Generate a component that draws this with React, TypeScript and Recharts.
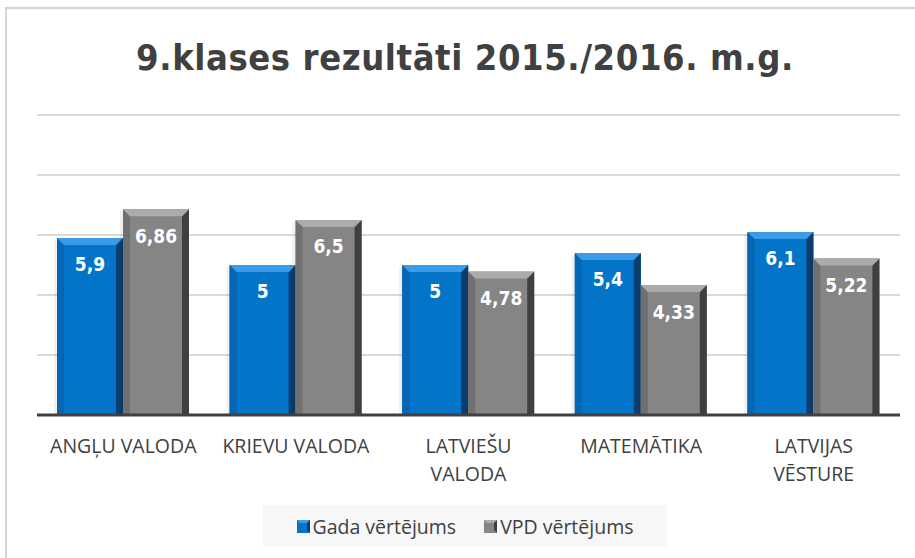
import React from 'react';
import { BarChart, Bar, XAxis, YAxis, CartesianGrid, LabelList, Legend } from 'recharts';

const categories = ['ANGĻU VALODA', 'KRIEVU VALODA', 'LATVIEŠU VALODA', 'MATEMĀTIKA', 'LATVIJAS VĒSTURE'];
const gadaValues = [5.9, 5, 5, 5.4, 6.1];
const vpdValues = [6.86, 6.5, 4.78, 4.33, 5.22];
const yTicks = [0, 2, 4, 6, 8, 10];
const seriesNames = ['Gada vērtējums', 'VPD vērtējums'];
const titleText = '9.klases rezultāti 2015./2016. m.g.';

const data = categories.map((c, i) => ({ name: c, gada: gadaValues[i], vpd: vpdValues[i] }));

const FONT = "'Liberation Sans Narrow', 'DejaVu Sans Condensed', 'Open Sans', sans-serif";
const TEXT_FONT = "'Open Sans', sans-serif";

const palettes: Record<string, { main: string; top: string; left: string; right: string }> = {
  blue: { main: '#0474C8', top: '#3A9BE8', left: '#0566B4', right: '#0B3E6E' },
  gray: { main: '#858585', top: '#ABABAB', left: '#707070', right: '#3F3F3F' },
};

const BevelBar = (props: any) => {
  const { x, y, width, height, paletteKey } = props;
  if (!height || height <= 0) return null;
  const p = palettes[paletteKey];
  const b = 7;
  return (
    <g>
      <rect x={x - 3} y={y + 2} width={width + 3} height={height - 2} fill="#000" opacity={0.06} />
      <rect x={x} y={y} width={width} height={height} fill={p.main} />
      <polygon points={`${x},${y} ${x + b},${y + b} ${x + b},${y + height} ${x},${y + height}`} fill={p.left} />
      <polygon points={`${x + width},${y} ${x + width - b},${y + b} ${x + width - b},${y + height} ${x + width},${y + height}`} fill={p.right} />
      <polygon points={`${x},${y} ${x + width},${y} ${x + width - b},${y + b} ${x + b},${y + b}`} fill={p.top} />
    </g>
  );
};

const fmt = (v: any) => String(v).replace('.', ',');

const CategoryTick = (props: any) => {
  const { x, y, payload } = props;
  const label: string = payload.value;
  const lines = label.length > 13 ? label.split(' ') : [label];
  return (
    <g transform={`translate(${x},${y})`}>
      {lines.map((l, i) => (
        <text key={i} x={0} y={30 + i * 28} textAnchor="middle" fill="#404040" fontSize={19.5} fontFamily={TEXT_FONT}>
          {l}
        </text>
      ))}
    </g>
  );
};

const LegendContent = () => {
  const sw = [palettes.blue, palettes.gray];
  return (
    <div style={{ width: 404, height: 42, background: '#F7F7F7', display: 'flex', alignItems: 'center', justifyContent: 'center', gap: 28, fontFamily: TEXT_FONT, fontSize: 19.5, color: '#404040' }}>
      {seriesNames.map((n, i) => (
        <span key={n} style={{ display: 'flex', alignItems: 'center' }}>
          <svg width={13} height={13} style={{ marginRight: 3 }}>
            <rect x={0} y={0} width={13} height={13} fill={sw[i].main} />
            <polygon points="0,0 13,0 10,3 3,3" fill={sw[i].top} />
            <polygon points="13,0 13,13 10,10 10,3" fill={sw[i].right} />
          </svg>
          {n}
        </span>
      ))}
    </div>
  );
};

export default function App() {
  return (
    <div style={{ position: 'absolute', left: 0, top: 0, width: 915, height: 558, background: '#fff', overflow: 'hidden' }}>
      <div style={{ position: 'absolute', left: 5, top: 7, width: 930, height: 580, border: '2px solid #D4D4D4', boxSizing: 'border-box' }} />
      <div style={{ position: 'absolute', left: 0, top: 36, width: 930, textAlign: 'center', fontFamily: FONT, fontWeight: 'bold', fontSize: 36, letterSpacing: 0.6, color: '#404040', lineHeight: '44px' }}>
        {titleText}
      </div>
      <div style={{ position: 'absolute', left: 0, top: 0 }}>
        <BarChart width={915} height={558} data={data} margin={{ top: 115, right: 15, bottom: 83, left: 37 }} barGap={0} barCategoryGap={20}>
          <CartesianGrid vertical={false} stroke="#D9D9D9" strokeWidth={2} />
          <YAxis hide domain={[0, 10]} ticks={yTicks} />
          <XAxis dataKey="name" height={60} interval={0} tickLine={false} axisLine={{ stroke: '#404040', strokeWidth: 3 }} tick={<CategoryTick />} />
          <Legend verticalAlign="middle" align="center" layout="horizontal" wrapperStyle={{ top: 505, left: 263, width: 404, height: 42 }} content={<LegendContent />} />
          <Bar dataKey="gada" name={seriesNames[0]} fill={palettes.blue.main} isAnimationActive={false} shape={(p: any) => <BevelBar {...p} paletteKey="blue" />}>
            <LabelList dataKey="gada" position="insideTop" offset={20} formatter={fmt} fill="#fff" fontSize={19} fontWeight="bold" fontFamily={FONT} />
          </Bar>
          <Bar dataKey="vpd" name={seriesNames[1]} fill={palettes.gray.main} isAnimationActive={false} shape={(p: any) => <BevelBar {...p} paletteKey="gray" />}>
            <LabelList dataKey="vpd" position="insideTop" offset={20} formatter={fmt} fill="#fff" fontSize={19} fontWeight="bold" fontFamily={FONT} />
          </Bar>
        </BarChart>
      </div>
    </div>
  );
}
